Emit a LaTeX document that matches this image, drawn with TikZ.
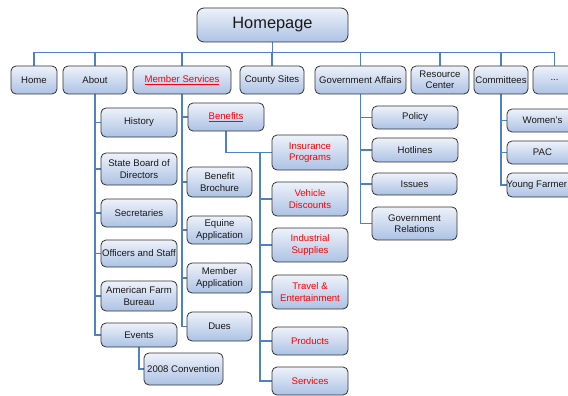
\documentclass[tikz,border=0pt]{standalone}
\usepackage{fontspec}
\setmainfont{Liberation Sans}
\usetikzlibrary{backgrounds}
\definecolor{boxtop}{RGB}{238,242,250}
\definecolor{boxbot}{RGB}{172,194,228}
\definecolor{linkblue}{RGB}{79,129,197}
\definecolor{boxline}{RGB}{50,50,50}
\newcommand\bx[6]{\node[box, minimum width=#4pt, minimum height=#5pt] (#1) at (#2,#3) {#6};}
\begin{document}
\begin{tikzpicture}[x=1pt,y=-1pt,
  box/.style={draw=boxline, line width=0.8pt, rounded corners=5pt, top color=boxtop, bottom color=boxbot,
    align=center, inner sep=0pt, font=\fontsize{9.6}{11.3}\selectfont, text=black!90},
  redtxt/.style={text=red},
  bigtxt/.style={font=\fontsize{16.4}{19}\selectfont},
  lbl/.style={inner sep=0pt, font=\fontsize{9.6}{11.3}\selectfont, text=black!90},
  conn/.style={draw=linkblue, line width=1.6pt}]
\useasboundingbox (0,0) rectangle (568,396);
\clip (0,0) rectangle (568,396);
% top level
\node[box, bigtxt, minimum width=151pt, minimum height=34pt, rounded corners=7pt] (hp) at (272.5,25) {Homepage};
\bx{home}{34}{80}{46}{28}{Home}
\bx{about}{95}{80}{64}{28}{About}
\node[box, redtxt, minimum width=98pt, minimum height=28pt] (ms) at (182,80) {\underline{Member Services}};
\bx{county}{272}{80}{64}{28}{County Sites}
\bx{gov}{360.5}{80}{91}{28}{Government Affairs}
\bx{res}{440}{80}{58}{28}{Resource\\Center}
\bx{comm}{501}{80}{54}{28}{Committees}
\bx{more}{554.5}{80}{43}{28}{...}
% About
\bx{history}{139}{122.5}{76}{29}{History}
\bx{board}{139}{169}{76}{32}{State Board of\\Directors}
\bx{secr}{139}{213}{76}{28}{Secretaries}
\bx{officers}{139}{253.5}{76}{27}{Officers and Staff}
\bx{afb}{139}{296}{76}{30}{American Farm\\Bureau}
\bx{events}{139}{335}{76}{24}{Events}
\bx{conv}{183.5}{369}{79}{32}{2008 Convention}
% Member services
\node[box, redtxt, minimum width=76pt, minimum height=28pt] (benefits) at (226,117) {\underline{Benefits}};
\bx{brochure}{219.5}{182}{65}{30}{Benefit\\Brochure}
\bx{equine}{219.5}{230}{65}{28}{Equine\\Application}
\bx{memapp}{219.5}{278}{65}{30}{Member\\Application}
\bx{dues}{219.5}{326.5}{65}{29}{Dues}
% Benefits
\node[box, redtxt, minimum width=76pt, minimum height=35pt] (ins) at (310,152.5) {Insurance\\Programs};
\node[box, redtxt, minimum width=76pt, minimum height=34pt] (veh) at (310,199) {Vehicle\\Discounts};
\node[box, redtxt, minimum width=76pt, minimum height=34pt] (ind) at (310,245) {Industrial\\Supplies};
\node[box, redtxt, minimum width=76pt, minimum height=34pt] (travel) at (310,292) {Travel \&\\Entertainment};
\node[box, redtxt, minimum width=76pt, minimum height=28pt] (prod) at (310,341) {Products};
\node[box, redtxt, minimum width=76pt, minimum height=28pt] (serv) at (310,381) {Services};
% Government affairs
\bx{policy}{415}{117.5}{86}{23}{Policy}
\bx{hot}{415}{150}{86}{24}{Hotlines}
\bx{issues}{414.5}{184}{85}{22}{Issues}
\bx{rel}{414.5}{223.5}{85}{33}{Government\\Relations}
% Committees
\bx{women}{542.5}{120.5}{71}{23}{Women’s}
\bx{pac}{542.5}{152.5}{71}{23}{PAC}
\bx{young}{542.5}{185}{71}{24}{}
\node[lbl, anchor=west] (youngtxt) at (506.5,185) {Young Farmer};
\coordinate (bj) at (260,152.5);
\begin{pgfonlayer}{background}
\draw[conn] (hp.south) -- ++(0,11);
\draw[conn] (home.north) -- ++(0,-13) -| (more.north);
\foreach \n in {about,ms,county,gov,res,comm} \draw[conn] (\n.north) -- ++(0,-13);
\foreach \n in {history,board,secr,officers,afb,events} \draw[conn] (about.south) |- (\n.west);
\draw[conn] (events.south) |- (conv.west);
\foreach \n in {benefits,brochure,equine,memapp,dues} \draw[conn] (ms.south) |- (\n.west);
\draw[conn] (benefits.south) |- (ins.west);
\foreach \n in {veh,ind,travel,prod,serv} \draw[conn] (bj) |- (\n.west);
\foreach \n in {policy,hot,issues,rel} \draw[conn] (gov.south) |- (\n.west);
\foreach \n in {women,pac,young} \draw[conn] (comm.south) |- (\n.west);
\end{pgfonlayer}
\end{tikzpicture}
\end{document}
